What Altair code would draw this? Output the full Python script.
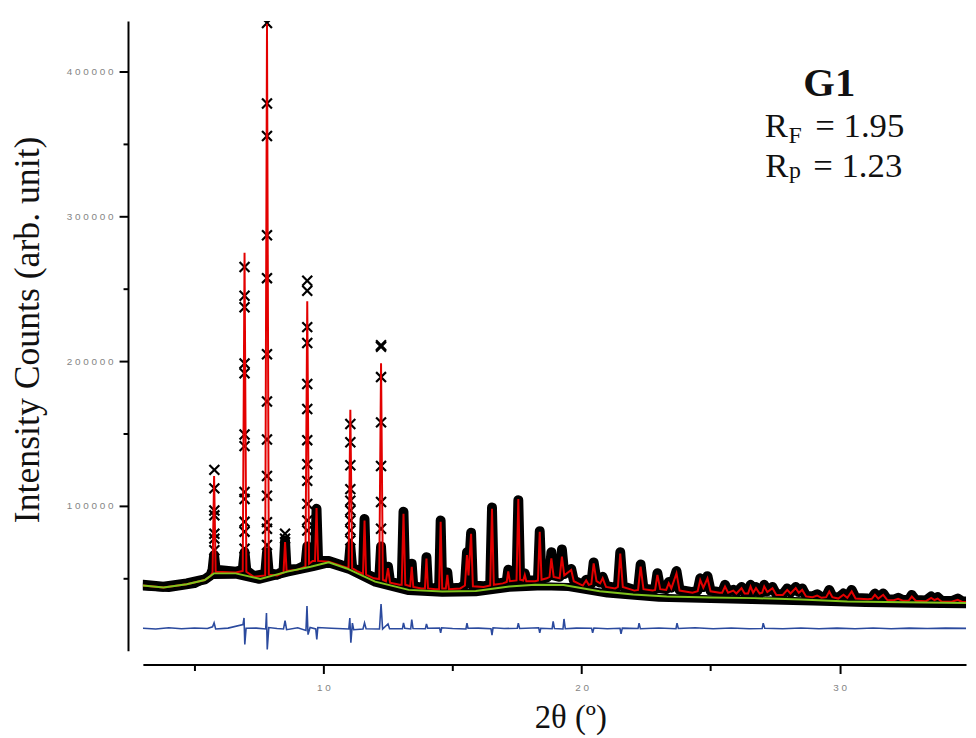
import altair as alt
import pandas as pd

# ------------------------------------------------------------------ data
# all values (2theta in degrees, counts)

# refined background (green)
bg_x = [3.0, 3.8, 4.7, 5.4, 5.75, 6.6, 7.55, 8.6, 9.5, 10.2, 10.9, 12.0, 13.3,
        14.6, 15.9, 17.2, 18.2, 19.3, 20.7, 22.0, 23.3, 25.0, 26.7, 28.5, 30.3,
        32.5, 35.0]
bg_y = [45000, 43600, 45900, 48800, 53400, 53400, 49500, 54600, 58000, 61000,
        56800, 47700, 42000, 40900, 41300, 44300, 45600, 45400, 41000, 38800,
        37400, 36800, 36300, 35300, 34000, 33500, 32900]

# lower edge of the observed band (points scattered under the background)
floor_x = [3.0, 4.0, 5.0, 5.7, 6.6, 7.5, 8.6, 9.6, 10.2, 11.0, 12.0, 13.3,
           14.6, 15.9, 17.2, 18.5, 19.5, 21.0, 23.0, 25.0, 27.0, 29.0, 31.0,
           33.0, 35.0]
floor_y = [44300, 43300, 46000, 52300, 52500, 48900, 53900, 57700, 60300,
           55800, 47000, 41200, 40000, 40400, 43400, 44500, 44000, 39400,
           36600, 35600, 34800, 34000, 32900, 32400, 32000]

# calculated profile (red) vertices
calc_x = [
    3.0, 3.8, 4.7, 5.4, 5.62, 5.70, 5.76, 5.82, 6.6, 6.87, 6.94, 7.01, 7.3,
    7.74, 7.81, 7.88, 8.2, 8.45, 8.51, 8.57, 9.0, 9.30, 9.37, 9.44, 9.58,
    9.67, 9.73, 9.79, 10.2, 10.7,
    10.97, 11.04, 11.11, 11.3, 11.53, 11.59, 11.65, 11.95, 12.16, 12.23,
    12.30, 12.42, 12.5, 12.58, 12.95, 13.03, 13.10, 13.17, 13.36, 13.42,
    13.48, 13.8, 13.93, 13.99, 14.05, 14.35, 14.48, 14.54, 14.60, 14.74,
    14.80, 14.86, 15.3, 15.48, 15.56, 15.62, 15.72, 15.79, 16.2, 16.46,
    16.53, 16.60, 16.95, 17.10, 17.16, 17.22, 17.48, 17.55, 17.62, 17.74,
    17.80, 17.86, 18.2, 18.31, 18.38, 18.45,
    18.65, 18.76, 18.83, 18.92, 19.15, 19.24, 19.33, 19.60, 19.70, 20.05,
    20.18, 20.28, 20.38, 20.47, 20.58, 20.72, 20.82, 20.95, 21.3, 21.41,
    21.50, 21.60, 22.05, 22.19, 22.29, 22.40, 22.75, 22.85, 22.94, 23.05,
    23.28, 23.38, 23.48, 23.68, 23.80, 24.3, 24.50, 24.60, 24.72, 24.88,
    25.00, 25.35, 25.45, 25.56, 25.68, 25.88, 26.0,
    26.2, 26.32, 26.45, 26.55, 26.65, 26.76, 26.9, 27.0, 27.08, 27.2, 27.4,
    27.55, 27.8, 27.97, 28.1, 28.3, 28.42, 28.55, 28.7, 28.95, 29.13, 29.3,
    29.48, 29.6, 29.72, 29.95, 30.15, 30.3, 30.47, 30.62, 31.1, 31.25, 31.37,
    31.5, 31.69, 31.85, 32.1, 32.27, 32.45, 32.68, 32.8, 32.95, 33.35, 33.55,
    33.68, 33.8, 33.95, 34.35, 34.58, 34.75, 35.0,
]
calc_y = [
    45000, 43600, 45900, 48800, 51500, 54000, 120700, 54500, 54000, 55000,
    274900, 54500, 51000, 52000, 433000, 52500, 52000, 54000, 75100, 55000,
    56000, 58000, 241300, 60000, 62000, 62000, 98600, 62000, 61500, 58500,
    57000, 166400, 57000, 55000, 53000, 89900, 52500, 50000, 49500, 198600,
    49000, 48000, 57000, 47000, 45500, 45500, 94500, 45500, 44500, 58000,
    44000, 43000, 43000, 63700, 43000, 42500, 42500, 89000, 43000, 43000,
    52300, 42500, 43000, 45000, 66000, 52000, 80800, 44500, 44000, 45000,
    98000, 45500, 46500, 47500, 54800, 48000, 48500, 104800, 49000, 48500,
    52300, 48000, 48000, 48500, 82200, 49000,
    50000, 51000, 63700, 51000, 50000, 65000, 52000, 55700, 48000, 45000,
    48500, 45500, 46000, 60300, 48000, 46500, 50000, 44000, 43000, 44000,
    67100, 44000, 41500, 42000, 58000, 42500, 41500, 42000, 52300, 42500,
    42000, 46600, 43000, 53400, 41500, 40000, 41000, 48800, 43500, 50000,
    41000, 40000, 40000, 44300, 40000, 41500, 39500,
    43200, 39500, 39500, 44300, 40000, 43200, 39500, 40000, 44300, 40500,
    43200, 38500, 38500, 42000, 39500, 43200, 40000, 42000, 37500, 37000,
    38100, 36500, 37000, 40900, 37000, 36000, 38600, 36500, 40900, 36000,
    35500, 35800, 38600, 36000, 38600, 35000, 34800, 35800, 34500, 34600,
    37400, 34500, 34200, 36500, 35000, 36000, 34000, 33800, 35100, 33700,
    33500,
]

# observed points where they pile up into a solid band (same 2theta grid)
band_y = [
    45500, 44200, 46500, 49300, 52000, 56000, 66000, 56000, 54500, 56000,
    68000, 55500, 51500, 53000, 68000, 53500, 52500, 55000, 76000, 56000,
    56500, 59000, 72000, 61000, 63000, 63000, 98000, 62500, 62000, 59000,
    57500, 72000, 57500, 55500, 53500, 91000, 53000, 50500, 50000, 72000,
    49500, 48500, 58000, 47500, 46000, 46000, 96000, 46000, 45000, 60000,
    44500, 43500, 43500, 64500, 43500, 43000, 43000, 90000, 43500, 43500,
    54000, 43000, 43500, 45500, 68000, 52500, 81500, 45000, 44500, 45500,
    99000, 46000, 47000, 48000, 56000, 48500, 49000, 104000, 49500, 49000,
    53500, 48500, 48500, 49000, 82500, 49500,
    50500, 52000, 68000, 52000, 51000, 70000, 53000, 56500, 48500, 45500,
    49000, 46000, 46500, 61000, 48500, 47000, 51000, 44500, 43500, 44500,
    68000, 44500, 42000, 42500, 59500, 43000, 42000, 42500, 53500, 43000,
    42500, 47500, 43500, 55000, 42000, 40500, 41500, 50000, 44000, 51500,
    41500, 40500, 40500, 45500, 40500, 42000, 40000,
    44000, 40000, 40000, 45500, 40500, 44000, 40000, 40500, 45500, 41000,
    44000, 39000, 39000, 43000, 40000, 44000, 40500, 43000, 38000, 37500,
    39000, 37000, 37500, 42000, 37500, 36500, 39500, 37000, 42000, 36500,
    36000, 36300, 39500, 36500, 39500, 35500, 35300, 36500, 35000, 35100,
    38500, 35000, 34700, 37500, 35500, 37000, 34500, 34300, 36000, 34200,
    34000,
]

# observed points that stand apart on the strong reflections
mark_pos = [5.77, 6.94, 7.81, 8.51, 9.37, 11.04, 12.23]
mark_heights = [
    [124900, 112100, 96800, 93500, 80800, 77400, 69400],
    [265000, 245200, 237200, 198400, 191600, 149300, 141300, 109600, 104800,
     89000, 82200, 70500],
    [433600, 378000, 355500, 287000, 257300, 204800, 172100, 145900, 120700,
     107000, 88800, 84200, 73000],
    [80800, 77400],
    [255500, 248600, 223500, 212500, 184200, 166900, 145400, 128800, 117300,
     101400, 90000, 83000],
    [156600, 144000, 128100, 111600, 103600, 96800, 89900, 83100, 76200],
    [211000, 210000, 189000, 157700, 127600, 102700, 84200],
]

# difference curve (blue), drawn with its offset
diff_x = [
    3.0, 3.5, 4.0, 4.5, 5.0, 5.5, 5.70, 5.76, 5.82, 6.3, 6.88, 6.92, 6.95,
    7.0, 7.4, 7.76, 7.79, 7.82, 7.88, 8.2, 8.45, 8.51, 8.57, 9.0, 9.32, 9.36,
    9.40, 9.48, 9.70, 9.74, 9.78, 10.3, 10.98, 11.02, 11.06, 11.12, 11.17,
    11.53, 11.59, 11.65, 12.17, 12.23, 12.29, 12.5, 12.56, 13.06, 13.10,
    13.15, 13.38, 13.42, 13.47, 13.95, 13.99, 14.04, 14.50, 14.54, 14.58,
    15.0, 15.52, 15.56, 15.6, 16.0, 16.49, 16.53, 16.57, 17.0, 17.51, 17.55,
    17.6, 18.34, 18.38, 18.42, 18.86, 18.90, 18.95, 19.28, 19.32, 19.37,
    19.8, 20.39, 20.43, 20.48, 21.0, 21.49, 21.53, 21.58, 22.19, 22.23,
    22.28, 23.0, 23.66, 23.70, 23.75, 24.4, 25.1, 25.8, 26.5, 27.0, 27.04,
    27.1, 27.8, 28.5, 29.2, 29.9, 30.6, 31.3, 32.0, 32.7, 33.4, 34.1, 35.0,
]
diff_y = [
    15500, 15000, 15800, 15200, 15700, 15300, 16500, 19200, 15000, 15600,
    18000, 22600, 4300, 15500, 15600, 15000, 26000, 900, 16000, 15300,
    15000, 20800, 14500, 15800, 14000, 30800, 11100, 16000, 15000, 7700,
    16000, 15500, 15000, 22600, 5500, 19000, 14500, 15000, 19200, 15200,
    15000, 32200, 15000, 18500, 15200, 15200, 19200, 15500, 15000, 21400,
    15300, 15200, 18500, 15500, 15600, 12300, 15800, 15300, 15000, 19000,
    15500, 15600, 15200, 10700, 15800, 15300, 15500, 19000, 15300, 15800,
    12300, 15500, 15200, 20300, 15300, 15000, 21900, 15200, 15600, 15500,
    12300, 15700, 15200, 15500, 11600, 15600, 15300, 19000, 15200, 15700,
    15200, 19000, 15300, 15800, 15100, 15700, 15200, 15300, 19000, 15500,
    15100, 15700, 15200, 15600, 15100, 15700, 15200, 15600, 15300, 15600,
    15400,
]

assert len(calc_x) == len(calc_y) == len(band_y)
assert len(diff_x) == len(diff_y)
assert len(floor_x) == len(floor_y)

# ---------------------------------------------------------------- styling
INK = "#000000"
TEXT = "#111111"
TICK_GREY = "#858585"
RED = "#e30000"
GREEN = "#7fc31c"
BLUE = "#2b4a9e"
SERIF = "Liberation Serif"

calc = pd.DataFrame({"t": calc_x, "I": calc_y})
band = pd.DataFrame({"t": calc_x, "I": band_y})
floor = pd.DataFrame({"t": floor_x, "I": floor_y})
bg = pd.DataFrame({"t": bg_x, "I": bg_y})
diff = pd.DataFrame({"t": diff_x, "I": diff_y})
marks = pd.DataFrame({
    "t": [p for p, hs in zip(mark_pos, mark_heights) for _ in hs],
    "I": [h for hs in mark_heights for h in hs],
})

spaced = "replace(format(datum.value, 'd'), regexp('([0-9])(?=[0-9])', 'g'), '$1 ')"

x_axis = alt.Axis(
    values=[5, 10, 15, 20, 25, 30],
    labelExpr=f"datum.value % 10 == 0 ? {spaced} : ''",
    tickSize={"condition": {"test": "datum.value % 10 == 0", "value": 9}, "value": 6},
    offset=14, grid=False, domainColor=INK, domainWidth=2, tickColor=INK,
    tickWidth=2, labelColor=TICK_GREY, labelFont="Liberation Sans",
    labelFontSize=10, labelPadding=9, title="2θ (º)", titleFont=SERIF,
    titleFontSize=33, titleFontWeight="normal", titleColor=TEXT,
    titlePadding=9, titleX=431,
)
y_axis = alt.Axis(
    values=[50000, 100000, 150000, 200000, 250000, 300000, 350000, 400000],
    labelExpr=f"datum.value % 100000 == 0 ? {spaced} : ''",
    tickSize={"condition": {"test": "datum.value % 100000 == 0", "value": 9}, "value": 5},
    offset=15, grid=False, domainColor=INK, domainWidth=2, tickColor=INK,
    tickWidth=2, labelColor=TICK_GREY, labelFont="Liberation Sans",
    labelFontSize=10, labelPadding=6, title="Intensity Counts (arb. unit)",
    titleFont=SERIF, titleFontSize=36, titleFontWeight="normal",
    titleColor=TEXT, titlePadding=20, titleY=311,
)

x_scale = alt.Scale(domain=[3, 34.9], nice=False, zero=False)
y_scale = alt.Scale(domain=[0, 435000], nice=False, zero=True)


def enc():
    return dict(
        x=alt.X("t:Q", scale=x_scale, axis=x_axis),
        y=alt.Y("I:Q", scale=y_scale, axis=y_axis),
    )


floor_layer = alt.Chart(floor).mark_line(
    color=INK, strokeWidth=8, strokeCap="round", strokeJoin="round", clip=True
).encode(**enc())

band_layer = alt.Chart(band).mark_line(
    color=INK, strokeWidth=10, strokeCap="round", strokeJoin="round", clip=True
).encode(**enc())

mark_layer = alt.Chart(marks).mark_point(
    shape="M-1,-1L1,1M-1,1L1,-1", size=100, filled=False, color=INK,
    strokeWidth=2.2, opacity=1, clip=True,
).encode(**enc())

calc_layer = alt.Chart(calc).mark_line(
    color=RED, strokeWidth=2, clip=True
).encode(**enc())

bg_layer = alt.Chart(bg).mark_line(
    color=GREEN, strokeWidth=2, clip=True
).encode(**enc())

diff_layer = alt.Chart(diff).mark_line(
    color=BLUE, strokeWidth=1.6, clip=True
).encode(**enc())

# label block (top right), placed in data coordinates
title_df = pd.DataFrame({"t": [29.6], "I": [383000], "txt": ["G1"]})
r_df = pd.DataFrame({
    "t": [27.1, 28.02, 29.06, 27.12, 28.04, 28.98],
    "I": [354800, 350700, 354800, 327400, 326300, 327400],
    "txt": ["R", "F", "= 1.95", "R", "p", "= 1.23"],
    "fs": [35, 24, 35, 35, 24, 35],
})

title_layer = alt.Chart(title_df).mark_text(
    font=SERIF, fontWeight="bold", fontSize=41, align="center",
    baseline="alphabetic", color=TEXT,
).encode(x=alt.X("t:Q", scale=x_scale, axis=x_axis),
         y=alt.Y("I:Q", scale=y_scale, axis=y_axis), text="txt:N")

r_layer = alt.Chart(r_df).mark_text(
    font=SERIF, align="left", baseline="alphabetic", color=TEXT,
).encode(x=alt.X("t:Q", scale=x_scale, axis=x_axis),
         y=alt.Y("I:Q", scale=y_scale, axis=y_axis), text="txt:N",
         size=alt.Size("fs:Q", scale=None, legend=None))

chart = alt.layer(
    floor_layer, band_layer, mark_layer, calc_layer, bg_layer, diff_layer,
    title_layer, r_layer,
).properties(
    width=830, height=635,
    autosize=alt.AutoSizeParams(type="none"),
    padding={"left": 136, "top": 10, "right": 2, "bottom": 84},
    background="white",
).configure_view(strokeWidth=0)

chart.save("out.html", embed_options={"renderer": "svg", "actions": False})
